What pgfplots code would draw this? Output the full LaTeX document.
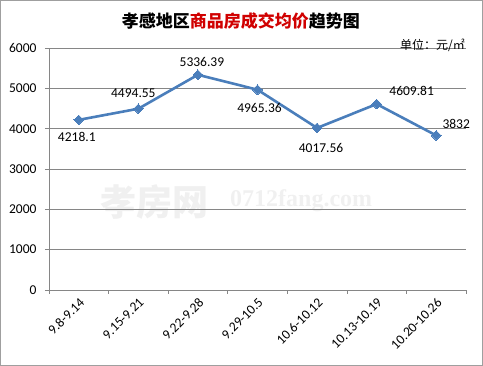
\documentclass[border=0pt]{standalone}
\usepackage{pgfplots}
\pgfplotsset{compat=1.18}
\usepackage{fontspec}
\setmainfont{Carlito}
\newfontfamily\cjk{Noto Sans CJK SC}
\newfontfamily\wmserif{Liberation Serif}
\definecolor{lineblue}{HTML}{4A7EBB}
\definecolor{gridgray}{HTML}{868686}
\definecolor{titlered}{HTML}{D00000}
\begin{document}
\begin{tikzpicture}
\useasboundingbox (-49pt,-76pt) rectangle (434pt,290pt);
\draw[gray!75, line width=0.8pt] (-48.5pt,-75.5pt) rectangle (433.5pt,289.5pt);
% watermark
\node[text=gray!12, font=\cjk\bfseries\fontsize{36}{36}\selectfont, anchor=base west, inner sep=0pt] at (51pt,74pt) {孝房网};
\node[text=gray!12, font=\wmserif\bfseries\fontsize{24}{24}\selectfont, anchor=base west, inner sep=0pt] at (181pt,83pt) {0712fang.com};
\begin{axis}[
  at={(0,0)}, anchor=south west,
  scale only axis, width=417pt, height=242pt,
  xmin=-0.5, xmax=6.5, ymin=0, ymax=6000,
  ytick={0,1000,...,6000},
  xtick={0,...,6},
  xticklabels={9.8-9.14,9.15-9.21,9.22-9.28,9.29-10.5,10.6-10.12,10.13-10.19,10.20-10.26},
  minor xtick={-0.5,0.5,...,6.5},
  major x tick style={draw=none},
  tick align=outside,
  major tick length=4pt, minor tick length=4pt,
  axis x line*=bottom, axis y line*=left,
  axis line style={gridgray, line width=0.6pt},
  tick style={gridgray, line width=0.6pt},
  ymajorgrids, major grid style={gridgray, line width=0.6pt},
  /pgf/number format/assume math mode=true,
  /pgf/number format/1000 sep={},
  scaled y ticks=false,
  yticklabel style={font=\fontsize{13.5}{15}\selectfont, xshift=-5pt},
  xticklabel style={rotate=45, anchor=north east, font=\fontsize{13.5}{15}\selectfont, inner sep=2pt},
  clip=false,
]
\addplot[lineblue, line width=2.6pt, mark=square*, mark size=3.4pt,
  mark options={solid, fill=lineblue, draw=lineblue, line width=0pt, rotate=45}]
  coordinates {(0,4218.1) (1,4494.55) (2,5336.39) (3,4965.36) (4,4017.56) (5,4609.81) (6,3832)};
\tikzset{dl/.style={font=\fontsize{13.5}{15}\selectfont, anchor=center, inner sep=0pt}}
\node[dl, xshift=-2pt, yshift=-17pt] at (axis cs:0,4218.1) {4218.1};
\node[dl, xshift=-5pt, yshift=16pt] at (axis cs:1,4494.55) {4494.55};
\node[dl, xshift=4pt, yshift=13pt] at (axis cs:2,5336.39) {5336.39};
\node[dl, xshift=2pt, yshift=-18pt] at (axis cs:3,4965.36) {4965.36};
\node[dl, xshift=4pt, yshift=-20pt] at (axis cs:4,4017.56) {4017.56};
\node[dl, xshift=35pt, yshift=13pt] at (axis cs:5,4609.81) {4609.81};
\node[dl, xshift=20pt, yshift=12pt] at (axis cs:6,3832) {3832};
\end{axis}
\node[font=\cjk\bfseries\fontsize{17}{20}\selectfont, anchor=center, inner sep=0pt] at (192pt,268.5pt) {孝感地区\textcolor{titlered}{商品房成交均价}趋势图};
\node[font=\cjk\fontsize{12}{13}\selectfont, anchor=east, inner sep=0pt] at (416pt,245pt) {单位：元/㎡};
\end{tikzpicture}
\end{document}
